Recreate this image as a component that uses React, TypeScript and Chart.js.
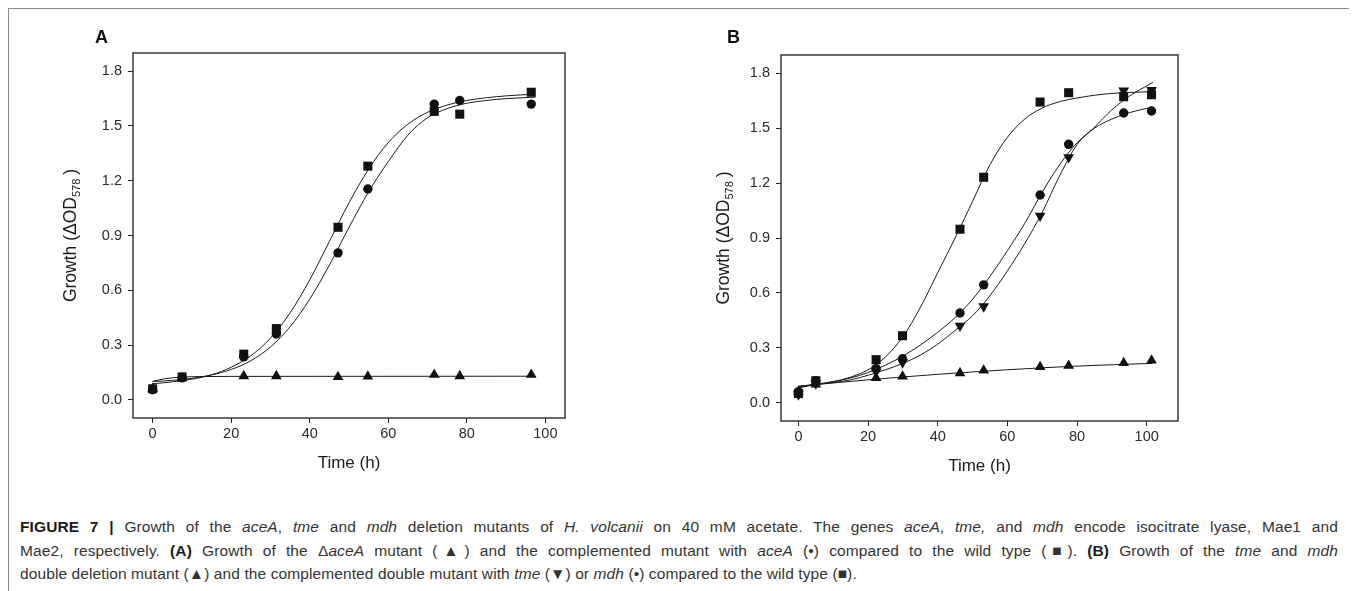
import React, { useEffect, useRef } from "react";
import { Chart, registerables } from "chart.js";

Chart.register(...registerables);

// ---------- Panel A data ----------
const aTime = [0, 7.5, 23.2, 31.5, 47.2, 54.8, 71.7, 78.2, 96.4];
const aWildType = [0.06, 0.125, 0.25, 0.39, 0.945, 1.28, 1.58, 1.565, 1.685];
const aComplemented = [0.055, 0.12, 0.235, 0.36, 0.805, 1.155, 1.62, 1.64, 1.62];
const aDeltaAceA = [0.06, 0.12, 0.13, 0.13, 0.125, 0.128, 0.137, 0.13, 0.137];

const aFitTime = [0, 5, 10, 15, 20, 25, 30, 35, 40, 45, 50, 55, 60, 65, 70, 75, 80, 85, 90, 97.5];
const aWildFit = [0.088, 0.098, 0.113, 0.137, 0.178, 0.241, 0.337, 0.476, 0.657, 0.867, 1.079, 1.264, 1.409, 1.51, 1.575, 1.615, 1.64, 1.655, 1.665, 1.675];
const aCompFit = [0.1, 0.106, 0.117, 0.136, 0.166, 0.214, 0.289, 0.4, 0.551, 0.738, 0.944, 1.14, 1.305, 1.45, 1.545, 1.595, 1.625, 1.64, 1.65, 1.658];
const aMutFitTime = [0, 3, 7.5, 12, 20, 97.5];
const aMutFit = [0.1, 0.115, 0.124, 0.127, 0.128, 0.129];

// ---------- Panel B data ----------
const bTime = [0, 5, 22.3, 29.9, 46.4, 53.2, 69.4, 77.6, 93.4, 101.4];
const bWildType = [0.05, 0.12, 0.235, 0.366, 0.948, 1.232, 1.643, 1.694, 1.672, 1.683];
const bMdh = [0.06, 0.12, 0.186, 0.24, 0.49, 0.644, 1.135, 1.412, 1.583, 1.594];
const bTme = [0.045, 0.105, 0.17, 0.22, 0.42, 0.526, 1.021, 1.341, 1.705, 1.708];
const bDouble = [0.06, 0.1, 0.135, 0.144, 0.162, 0.176, 0.195, 0.202, 0.217, 0.231];

const bFitTime = [0, 5, 10, 15, 20, 25, 30, 35, 40, 45, 50, 55, 60, 65, 70, 75, 80, 85, 90, 95, 101.6];
const bWildFit = [0.09, 0.1, 0.115, 0.14, 0.18, 0.25, 0.36, 0.52, 0.71, 0.9, 1.1, 1.3, 1.45, 1.55, 1.61, 1.645, 1.665, 1.68, 1.69, 1.695, 1.7];
const bMdhFit = [0.08, 0.1, 0.115, 0.135, 0.165, 0.205, 0.255, 0.315, 0.385, 0.465, 0.565, 0.69, 0.83, 0.98, 1.15, 1.3, 1.42, 1.5, 1.55, 1.585, 1.615];
const bTmeFitTime = [0, 5, 10, 15, 20, 25, 30, 35, 40, 45, 50, 55, 60, 65, 70, 75, 80, 85, 90, 95, 101.8];
const bTmeFit = [0.085, 0.1, 0.11, 0.125, 0.15, 0.18, 0.215, 0.26, 0.32, 0.395, 0.475, 0.585, 0.72, 0.87, 1.04, 1.24, 1.41, 1.505, 1.6, 1.675, 1.75];
const bDoubleFitTime = [0, 20, 40, 60, 80, 101.6];
const bDoubleFit = [0.09, 0.125, 0.155, 0.18, 0.2, 0.215];

// ---------- Axis ticks ----------
const xTicks = [0, 20, 40, 60, 80, 100];
const yTicks = [0, 0.3, 0.6, 0.9, 1.2, 1.5, 1.8];

const FONT = '"Liberation Sans", Arial, Helvetica, sans-serif';
const INK = "#111";

const pts = (xs: number[], ys: number[]) => xs.map((x, i) => ({ x, y: ys[i] }));

function markers(xs: number[], ys: number[], style: string, radius: number, rotation = 0) {
  return {
    data: pts(xs, ys),
    showLine: false,
    pointStyle: style,
    pointRadius: radius,
    pointHoverRadius: radius,
    pointRotation: rotation,
    backgroundColor: INK,
    borderColor: INK,
    borderWidth: 0,
  };
}

function curve(xs: number[], ys: number[]) {
  return {
    data: pts(xs, ys),
    showLine: true,
    pointRadius: 0,
    pointHoverRadius: 0,
    borderColor: "#1a1a1a",
    borderWidth: 1,
    cubicInterpolationMode: "monotone",
    fill: false,
  };
}

function decorPlugin(letter: string, letterX: number, letterY: number, titleX: number) {
  return {
    id: "panelDecor" + letter,
    afterDraw(chart: any) {
      const { ctx, chartArea: ca } = chart;
      ctx.save();
      ctx.strokeStyle = "#2b2b2b";
      ctx.lineWidth = 1.4;
      ctx.strokeRect(ca.left, ca.top, ca.right - ca.left, ca.bottom - ca.top);

      ctx.fillStyle = INK;
      ctx.font = `bold 18px ${FONT}`;
      ctx.textAlign = "left";
      ctx.textBaseline = "middle";
      ctx.fillText(letter, letterX, letterY);

      // Y axis title with subscript
      const main = "Growth (\u0394OD";
      const sub = "578";
      const close = ")";
      ctx.fillStyle = "#1a1a1a";
      ctx.translate(titleX, (ca.top + ca.bottom) / 2);
      ctx.rotate(-Math.PI / 2);
      ctx.font = `17.5px ${FONT}`;
      const w1 = ctx.measureText(main).width;
      const w3 = ctx.measureText(close).width;
      ctx.font = `11px ${FONT}`;
      const w2 = ctx.measureText(sub).width;
      const gap = 4;
      const total = w1 + w2 + gap + w3;
      let x = -total / 2;
      ctx.textBaseline = "alphabetic";
      ctx.font = `17.5px ${FONT}`;
      ctx.fillText(main, x, 6);
      x += w1;
      ctx.font = `11px ${FONT}`;
      ctx.fillText(sub, x, 10);
      x += w2 + gap;
      ctx.font = `17.5px ${FONT}`;
      ctx.fillText(close, x, 6);
      ctx.restore();
    },
  };
}

function scales(xMax: number, yAxisWidth: number, xAxisHeight: number, titlePadBottom: number) {
  const grid = {
    display: true,
    drawOnChartArea: false,
    drawTicks: true,
    tickLength: 5,
    tickColor: "#222",
    lineWidth: 1,
  };
  return {
    x: {
      type: "linear",
      min: -5,
      max: xMax,
      afterBuildTicks: (s: any) => {
        s.ticks = xTicks.map((v) => ({ value: v }));
      },
      afterFit: (s: any) => {
        s.height = xAxisHeight;
      },
      grid,
      border: { display: false },
      ticks: {
        font: { family: FONT, size: 14.5 },
        color: "#2a2a2a",
        padding: 2,
        maxRotation: 0,
        autoSkip: false,
      },
      title: {
        display: true,
        text: "Time (h)",
        font: { family: FONT, size: 17 },
        color: "#1a1a1a",
        padding: { top: 0, bottom: titlePadBottom },
      },
    },
    y: {
      type: "linear",
      min: -0.1,
      max: 1.9,
      afterBuildTicks: (s: any) => {
        s.ticks = yTicks.map((v) => ({ value: v }));
      },
      afterFit: (s: any) => {
        s.width = yAxisWidth;
      },
      grid,
      border: { display: false },
      ticks: {
        font: { family: FONT, size: 14.5 },
        color: "#2a2a2a",
        padding: 6,
        autoSkip: false,
        callback: (v: number) => Number(v).toFixed(1),
      },
    },
  };
}

function PanelA() {
  const ref = useRef<HTMLCanvasElement | null>(null);
  useEffect(() => {
    if (!ref.current) return;
    const chart = new Chart(ref.current, {
      type: "scatter",
      data: {
        datasets: [
          markers(aTime, aWildType, "rect", 6.4),
          markers(aTime, aComplemented, "circle", 4.7),
          markers(aTime, aDeltaAceA, "triangle", 6.2),
          curve(aFitTime, aWildFit),
          curve(aFitTime, aCompFit),
          curve(aMutFitTime, aMutFit),
        ] as any,
      },
      options: {
        animation: false,
        responsive: false,
        maintainAspectRatio: false,
        devicePixelRatio: 1,
        layout: { padding: { left: 0, right: 134, top: 44, bottom: 0 } },
        plugins: { legend: { display: false }, tooltip: { enabled: false } },
        scales: scales(105, 124, 71, 15) as any,
      },
      plugins: [decorPlugin("A", 86, 29, 61)],
    });
    return () => chart.destroy();
  }, []);
  return (
    <canvas
      ref={ref}
      width={690}
      height={480}
      style={{ position: "absolute", left: 0, top: 0, width: 690, height: 480 }}
    />
  );
}

function PanelB() {
  const ref = useRef<HTMLCanvasElement | null>(null);
  useEffect(() => {
    if (!ref.current) return;
    const chart = new Chart(ref.current, {
      type: "scatter",
      data: {
        datasets: [
          markers(bTime, bWildType, "rect", 6.4),
          markers(bTime, bMdh, "circle", 4.7),
          markers(bTime, bTme, "triangle", 6.2, 180),
          markers(bTime, bDouble, "triangle", 6.2),
          curve(bFitTime, bWildFit),
          curve(bFitTime, bMdhFit),
          curve(bTmeFitTime, bTmeFit),
          curve(bDoubleFitTime, bDoubleFit),
        ] as any,
      },
      options: {
        animation: false,
        responsive: false,
        maintainAspectRatio: false,
        devicePixelRatio: 1,
        layout: { padding: { left: 0, right: 172, top: 46, bottom: 0 } },
        plugins: { legend: { display: false }, tooltip: { enabled: false } },
        scales: scales(109, 81, 68, 12) as any,
      },
      plugins: [decorPlugin("B", 27, 29, 23)],
    });
    return () => chart.destroy();
  }, []);
  return (
    <canvas
      ref={ref}
      width={650}
      height={480}
      style={{ position: "absolute", left: 691, top: 0, width: 650, height: 480 }}
    />
  );
}

const justifyLine: React.CSSProperties = { textAlign: "justify", textAlignLast: "justify" };

export default function App() {
  return (
    <div
      style={{
        position: "relative",
        width: 1341,
        height: 600,
        border: "1px solid #8a8a8a",
        background: "#fff",
        boxSizing: "content-box",
      }}
    >
      <PanelA />
      <PanelB />
      <div
        style={{
          position: "absolute",
          left: 11,
          top: 506,
          width: 1318,
          fontFamily: FONT,
          fontSize: 15.5,
          letterSpacing: "0.1px",
          lineHeight: "23.5px",
          color: "#333",
        }}
      >
        <div style={justifyLine}>
          <b style={{ color: "#1a1a1a" }}>FIGURE 7 |</b> Growth of the <i>aceA</i>, <i>tme</i> and <i>mdh</i> deletion
          mutants of <i>H. volcanii</i> on 40 mM acetate. The genes <i>aceA</i>, <i>tme,</i> and <i>mdh</i> encode
          isocitrate lyase, Mae1 and
        </div>
        <div style={justifyLine}>
          Mae2, respectively. <b style={{ color: "#1a1a1a" }}>(A)</b> Growth of the Δ<i>aceA</i> mutant (▲) and the
          complemented mutant with <i>aceA</i> (•) compared to the wild type (■). <b style={{ color: "#1a1a1a" }}>(B)</b>{" "}
          Growth of the <i>tme</i> and <i>mdh</i>
        </div>
        <div>
          double deletion mutant (▲) and the complemented double mutant with <i>tme</i> (▼) or <i>mdh</i> (•)
          compared to the wild type (■).
        </div>
      </div>
    </div>
  );
}
